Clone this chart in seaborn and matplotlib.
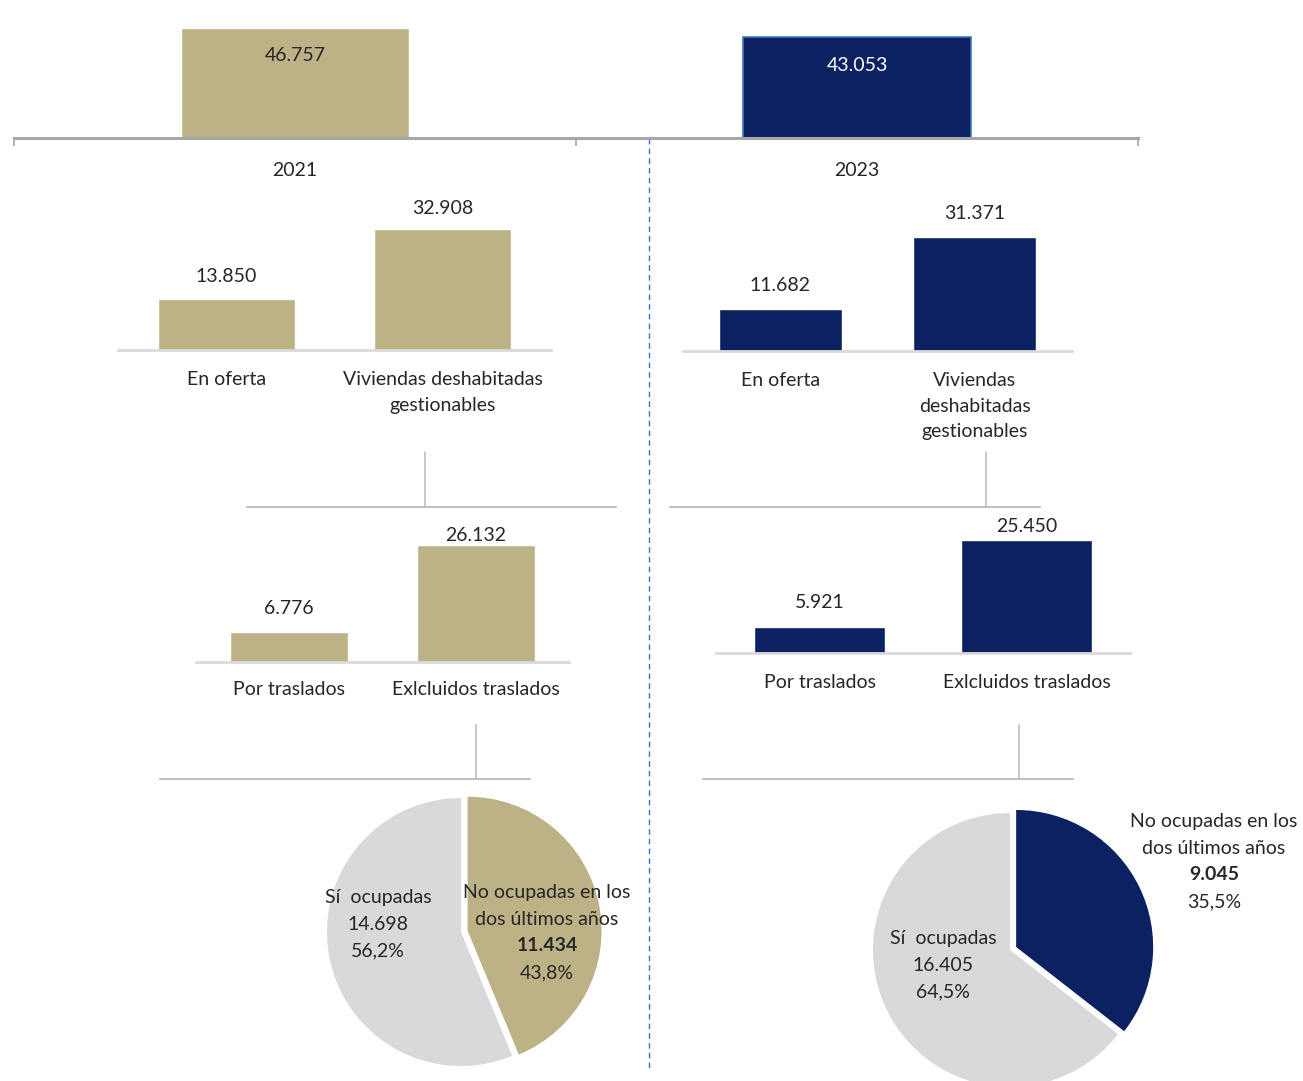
import matplotlib.pyplot as plt
import numpy as np
import pandas as pd
import seaborn as sns

W, H = 1303, 1081
tan = "#BDB285"
navy = "#0C2161"
light_grey = "#D9D9D9"
line_grey = "#BFBFBF"

# Data
years = ["2021", "2023"]
total_vals = [46757, 43053]

tier2_cats = ["En oferta", "Viviendas deshabitadas\ngestionables"]
tier2_cats_right = ["En oferta", "Viviendas\ndeshabitadas\ngestionables"]
tier2_2021 = [13850, 32908]
tier2_2023 = [11682, 31371]

tier3_cats = ["Por traslados", "Exlcluidos traslados"]
tier3_2021 = [6776, 26132]
tier3_2023 = [5921, 25450]

pie_labels = ["No ocupadas en los\ndos últimos años", "Sí  ocupadas"]
pie_2021 = [11434, 14698]
pie_2023 = [9045, 16405]

sns.set_style("white")
plt.rcParams["font.family"] = ["Lato", "DejaVu Sans"]
FS = 14

fig = plt.figure(figsize=(W / 100, H / 100), dpi=100)


def px_axes(x0, y0, x1, y1):
    # pixel box (top-left origin) -> figure axes
    return fig.add_axes([x0 / W, 1 - y1 / H, (x1 - x0) / W, (y1 - y0) / H])


def fmt(v):
    return f"{v:,.0f}".replace(",", ".")


def bar_tier(box, cats, vals, color, px_scale, offsets, label_pad, width, lw=2,
             spine_color=light_grey, ticks=False):
    x0, y0, x1, y1 = box
    ax = px_axes(x0, y0, x1, y1)
    df = pd.DataFrame({"cat": cats, "val": vals})
    sns.barplot(data=df, x="cat", y="val", color=color, saturation=1,
                width=width, ax=ax)
    ax.set_xlim(-0.5, len(cats) - 0.5)
    ax.set_ylim(0, (y1 - y0) * px_scale)
    sns.despine(ax=ax, left=True)
    ax.spines["bottom"].set_color(spine_color)
    ax.spines["bottom"].set_linewidth(lw)
    ax.set_yticks([])
    ax.set_xlabel("")
    ax.set_ylabel("")
    ax.tick_params(axis="x", length=0, pad=label_pad, labelsize=FS)
    for t in ax.get_xticklabels():
        t.set_linespacing(1.62)
        t.set_va("top")
    if ticks:
        ax.set_xticks([-0.5, 0.5, 1.5], minor=True)
        ax.tick_params(axis="x", which="minor", bottom=True, length=6,
                       color=spine_color, width=1.2, direction="out")
    for bar, v, off in zip(ax.patches, vals, offsets):
        ax.annotate(fmt(v), (bar.get_x() + bar.get_width() / 2, bar.get_height()),
                    xytext=(0, off / 1.389), textcoords="offset points",
                    ha="center", va="center", fontsize=FS)
    return ax


# Top tier: totals
ax_top = bar_tier((14, 0, 1138, 138), years, total_vals, tan, 425,
                  [-28, -29], 17, 0.404, lw=2.2, spine_color="#A6A6A6", ticks=True)
ax_top.patches[1].set_facecolor(navy)
ax_top.patches[1].set_edgecolor("#3B7BB0")
ax_top.patches[1].set_linewidth(1.2)
ax_top.texts[1].set_color("white")

# Tier 2
bar_tier((118, 200, 551, 350), tier2_cats, tier2_2021, tan, 273, [23, 21], 15, 0.634)
bar_tier((683, 200, 1072, 351), tier2_cats_right, tier2_2023, navy, 275, [23, 23], 15, 0.632)

# Tier 3
bar_tier((196, 520, 569, 662), tier3_cats, tier3_2021, tan, 224, [23, 10], 14, 0.635)
bar_tier((716, 510, 1130, 653), tier3_cats, tier3_2023, navy, 225, [24, 13], 15, 0.635)

# Connector lines and divider (overlay axes in pixel coords)
ov = fig.add_axes([0, 0, 1, 1], zorder=-1)
ov.set_xlim(0, W)
ov.set_ylim(H, 0)
ov.axis("off")
for vx, hx0, hx1, y_top, y_bot in [(425, 247, 616, 452, 507), (986, 670, 1040, 452, 507),
                                    (476, 160, 530, 725, 779), (1019, 703, 1073, 725, 779)]:
    ov.plot([vx, vx], [y_top, y_bot], color=line_grey, lw=1.2)
    ov.plot([hx0, hx1], [y_bot, y_bot], color=line_grey, lw=1.5)
ov.plot([649, 649], [12, 1070], color="#3A6FD8", lw=1, linestyle=(0, (4, 3)))


def pie_block(cx, cy, r, vals, color, lab_main, lab_other):
    size = r * 2.3
    ax = px_axes(cx - size / 2, cy - size / 2, cx + size / 2, cy + size / 2)
    ax.pie(vals, colors=[color, light_grey], startangle=90, counterclock=False,
           explode=[0.05, 0], radius=1,
           wedgeprops={"linewidth": 0})
    ax.set_xlim(-1.15, 1.15)
    ax.set_ylim(-1.15, 1.15)
    ax.set_aspect("equal")
    total = sum(vals)

    def put(x, ys, lines, bolds):
        for yy, txt, b in zip(ys, lines, bolds):
            ax.text((x - cx) / r, (cy - yy) / r, txt, ha="center", va="center",
                    fontsize=FS, fontweight="bold" if b else "normal",
                    clip_on=False)

    mx, my = lab_main
    l1, l2 = pie_labels[0].split("\n")
    put(mx, [my, my + 26.5, my + 53, my + 79.5],
        [l1, l2, fmt(vals[0]), f"{vals[0] / total * 100:.1f}%".replace(".", ",")],
        [False, False, True, False])
    ox, oy = lab_other
    put(ox, [oy, oy + 26.5, oy + 53],
        [pie_labels[1], fmt(vals[1]), f"{vals[1] / total * 100:.1f}%".replace(".", ",")],
        [False, False, False])
    return ax


pie_block(461, 932, 134, pie_2021, tan, (547, 893), (378, 898))
pie_block(1010, 950, 137, pie_2023, navy, (1214, 822), (943, 939))

fig.savefig("out.png", dpi=100)
